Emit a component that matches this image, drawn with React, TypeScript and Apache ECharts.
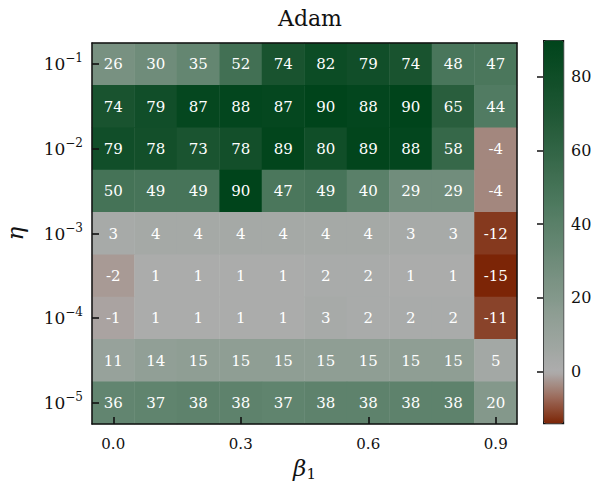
import React, { useEffect, useRef } from "react";
import * as echarts from "echarts";

const betaLabels = ["0.0", "0.1", "0.2", "0.3", "0.4", "0.5", "0.6", "0.7", "0.8", "0.9"];
const etaExponents = ["-1", "-1.5", "-2", "-2.5", "-3", "-3.5", "-4", "-4.5", "-5"];

const row0 = [26, 30, 35, 52, 74, 82, 79, 74, 48, 47];
const row1 = [74, 79, 87, 88, 87, 90, 88, 90, 65, 44];
const row2 = [79, 78, 73, 78, 89, 80, 89, 88, 58, -4];
const row3 = [50, 49, 49, 90, 47, 49, 40, 29, 29, -4];
const row4 = [3, 4, 4, 4, 4, 4, 4, 3, 3, -12];
const row5 = [-2, 1, 1, 1, 1, 2, 2, 1, 1, -15];
const row6 = [-1, 1, 1, 1, 1, 3, 2, 2, 2, -11];
const row7 = [11, 14, 15, 15, 15, 15, 15, 15, 15, 5];
const row8 = [36, 37, 38, 38, 37, 38, 38, 38, 38, 20];
const rows = [row0, row1, row2, row3, row4, row5, row6, row7, row8];

const colorbarTicks = [0, 20, 40, 60, 80];
const cMin = -14;
const cMax = 90;

const anchors: [number, string][] = [
  [-14, "#7c2506"],
  [-7, "#9b6a5a"],
  [0, "#adadad"],
  [15, "#8f9e94"],
  [45, "#4f7a60"],
  [70, "#1f5734"],
  [90, "#00441b"],
];

function hexToRgb(h: string) {
  return [1, 3, 5].map((i) => parseInt(h.slice(i, i + 2), 16));
}
function colorAt(v: number) {
  for (let i = 0; i < anchors.length - 1; i++) {
    const [v0, c0] = anchors[i];
    const [v1, c1] = anchors[i + 1];
    if (v >= v0 && v <= v1) {
      const t = (v - v0) / (v1 - v0);
      const a = hexToRgb(c0);
      const b = hexToRgb(c1);
      const c = a.map((x, k) => Math.round(x + (b[k] - x) * t));
      return "rgb(" + c.join(",") + ")";
    }
  }
  return anchors[anchors.length - 1][1];
}

const FONT = "DejaVu Serif";
const INK = "#111";

export default function App() {
  const ref = useRef<HTMLDivElement>(null);
  useEffect(() => {
    if (!ref.current) return;
    const chart = echarts.init(ref.current, null, { renderer: "svg" });
    const data: number[][] = [];
    rows.forEach((r, y) => r.forEach((v, x) => data.push([x, y, v])));
    const stops: string[] = [];
    for (let v = cMin; v <= cMax; v += 1) stops.push(colorAt(v));

    const sup = (e: string) => "{b|10}{s|" + e.replace("-", "\u2212") + "}";

    chart.setOption({
      animation: false,
      title: {
        text: "Adam",
        left: 305,
        top: 2,
        textAlign: "center",
        textStyle: { fontFamily: FONT, fontSize: 22, fontWeight: "normal", color: INK },
      },
      grid: [
        { left: 92, top: 43, width: 425, height: 381, outerBoundsMode: "none", containLabel: false },
        { left: 543, top: 40, width: 20, height: 383, outerBoundsMode: "none", containLabel: false },
      ],
      xAxis: [
        {
          type: "category",
          data: betaLabels,
          gridIndex: 0,
          z: 10,
          name: "{b|\u03b2}{sub|1}",
          nameLocation: "middle",
          nameGap: 30,
          nameTextStyle: {
            rich: {
              b: { fontFamily: FONT, fontSize: 23, fontStyle: "italic", color: INK },
              sub: { fontFamily: FONT, fontSize: 15, color: INK, padding: [12, 0, 0, 0] },
            },
          },
          axisLine: { show: true, lineStyle: { color: INK, width: 1.5 } },
          axisTick: { show: true, inside: true, length: 7, interval: 2, alignWithLabel: true, lineStyle: { color: INK, width: 1.6 } },
          axisLabel: { interval: 2, margin: 12, fontFamily: FONT, fontSize: 15, color: INK },
          splitLine: { show: false },
        },
        {
          type: "category",
          data: betaLabels,
          gridIndex: 0,
          position: "top",
          z: 10,
          axisLine: { show: true, lineStyle: { color: INK, width: 1.5 } },
          axisTick: { show: false },
          axisLabel: { show: false },
        },
        { type: "value", gridIndex: 1, show: false, min: 0, max: 1 },
      ],
      yAxis: [
        {
          type: "category",
          data: etaExponents,
          gridIndex: 0,
          inverse: true,
          z: 10,
          name: "\u03b7",
          nameLocation: "middle",
          nameRotate: 90,
          nameGap: 66,
          nameTextStyle: { fontFamily: FONT, fontSize: 23, fontStyle: "italic", color: INK },
          axisLine: { show: true, lineStyle: { color: INK, width: 1.5 } },
          axisTick: { show: true, inside: true, length: 7, interval: 1, alignWithLabel: true, lineStyle: { color: INK, width: 1.6 } },
          axisLabel: {
            interval: 1,
            margin: 9,
            formatter: (v: string) => sup(v),
            rich: {
              b: { fontFamily: FONT, fontSize: 17, color: INK },
              s: { fontFamily: FONT, fontSize: 12, color: INK, padding: [0, 0, 12, 0] },
            },
          },
          splitLine: { show: false },
        },
        {
          type: "category",
          data: etaExponents,
          gridIndex: 0,
          inverse: true,
          position: "right",
          z: 10,
          axisLine: { show: true, lineStyle: { color: INK, width: 1.5 } },
          axisTick: { show: false },
          axisLabel: { show: false },
        },
        {
          type: "value",
          gridIndex: 1,
          min: cMin,
          max: cMax,
          position: "right",
          z: 10,
          axisLine: { show: false },
          axisTick: { inside: true, length: 6, customValues: colorbarTicks, lineStyle: { color: INK, width: 1.5 } },
          axisLabel: { customValues: colorbarTicks, margin: 8, fontFamily: FONT, fontSize: 16, color: INK },
          splitLine: { show: false },
        },
      ],
      visualMap: {
        type: "continuous",
        min: cMin,
        max: cMax,
        seriesIndex: 0,
        calculable: false,
        orient: "vertical",
        left: 543,
        top: 40,
        itemWidth: 20,
        itemHeight: 383,
        padding: 0,
        borderColor: INK,
        borderWidth: 1.2,
        inRange: { color: stops },
        hoverLink: false,
      },
      series: [
        {
          type: "heatmap",
          xAxisIndex: 0,
          yAxisIndex: 0,
          z: 1,
          data,
          label: {
            show: true,
            color: "#fff",
            fontFamily: FONT,
            fontSize: 15,
            formatter: (p: any) => String(p.value[2]),
          },
          itemStyle: { borderWidth: 0 },
          emphasis: { disabled: true },
        },
      ],
    });
    return () => chart.dispose();
  }, []);
  return (
    <div
      ref={ref}
      style={{ position: "fixed", left: 0, top: 0, width: 595, height: 485, background: "#fff" }}
    />
  );
}
